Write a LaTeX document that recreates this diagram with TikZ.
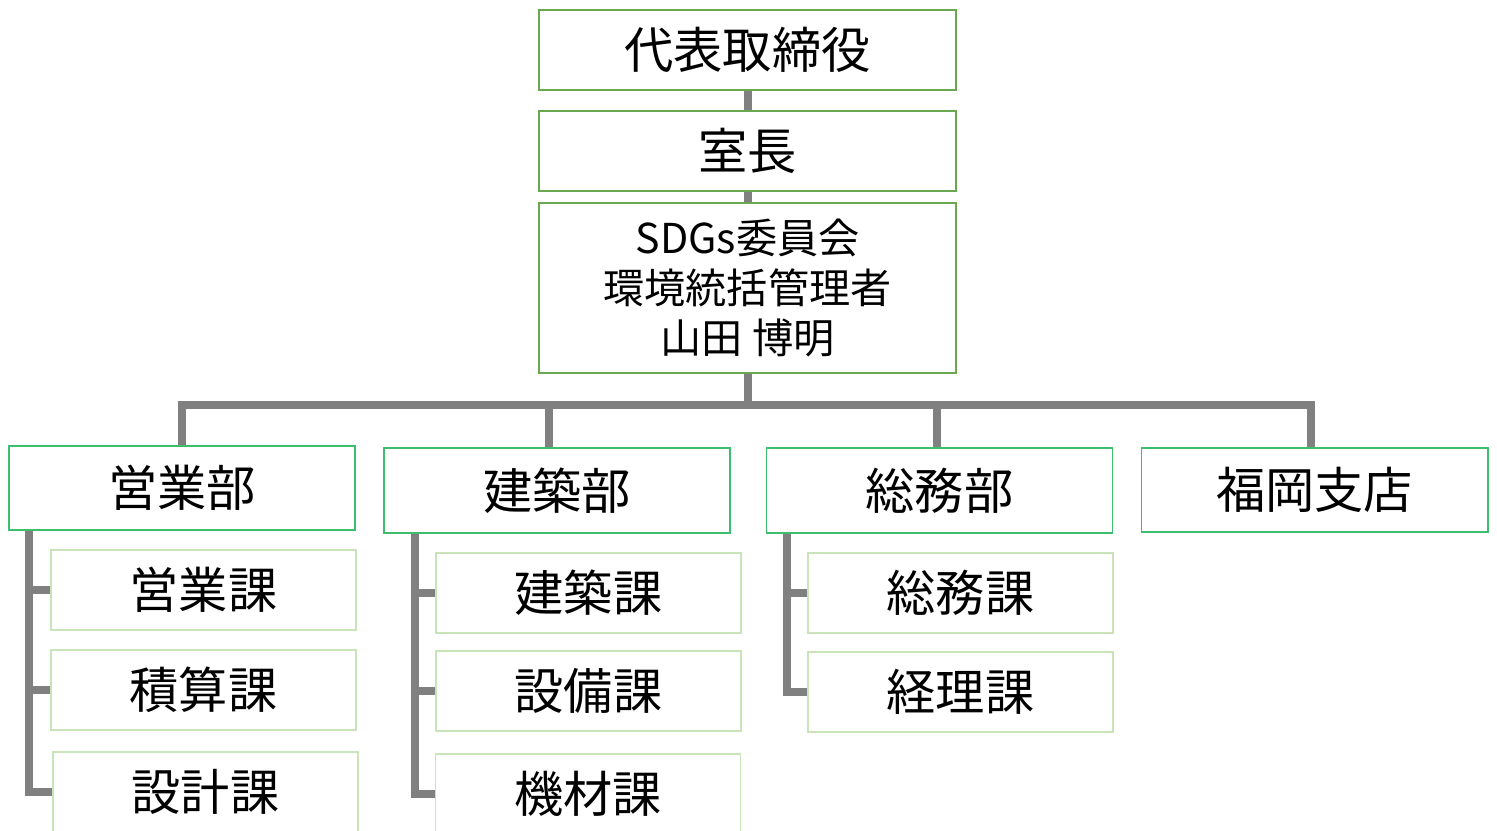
\documentclass[tikz,border=0pt]{standalone}
\usepackage{fontspec}
\setmainfont{Noto Sans CJK JP}
\usepackage{xcolor}
\definecolor{chart-olive}{HTML}{6AA84F}
\definecolor{chart-green}{HTML}{3DBE6E}
\definecolor{chart-pale}{HTML}{C9E4B8}
\definecolor{chart-grey}{HTML}{808080}
\usepackage{tikz}
\usetikzlibrary{calc}

\tikzset{
    topbox/.style={draw=chart-olive, line width=0.5pt, inner sep=0pt, minimum width=4.17cm, minimum height=0.8cm, font=\fontsize{14}{17}\selectfont},
    deptbox/.style={draw=chart-green, line width=0.5pt, inner sep=0pt, minimum width=3.46cm, minimum height=0.85cm, font=\fontsize{14}{17}\selectfont},
    sectbox/.style={draw=chart-pale, line width=0.5pt, inner sep=0pt, minimum width=3.05cm, minimum height=0.8cm, font=\fontsize{14}{17}\selectfont},
    link/.style={draw=chart-grey, line width=0.08cm}
}

\begin{document}
\begin{tikzpicture}[x=0.01cm, y=-0.01cm]

    % Frame
    \useasboundingbox (0, 0) rectangle (1497, 830);
    \clip (0, 0) rectangle (1497, 830);

    % Top
    \node[topbox] (ceo) at (747.5, 50) {代表取締役};
    \node[topbox] (chief) at (747.5, 151) {室長};
    \node[topbox, minimum height=1.7cm, align=center, font=\fontsize{11.7}{14.2}\selectfont] (sdgs) at (747.5, 288) {SDGs委員会\\環境統括管理者\\山田\ 博明};

    % Departments
    \node[deptbox, minimum height=0.84cm] (sales) at (182, 488) {営業部};
    \node[deptbox] (build) at (557, 490.5) {建築部};
    \node[deptbox] (admin) at (939.5, 490.5) {総務部};
    \node[deptbox, minimum height=0.84cm] (fukuoka) at (1314.5, 490) {福岡支店};

    % Sections
    \node[sectbox] (salessec) at (203.5, 590) {営業課};
    \node[sectbox] (estimate) at (203.5, 690) {積算課};
    \node[sectbox] (design) at (205.5, 792) {設計課};
    \node[sectbox] (buildsec) at (588.5, 593) {建築課};
    \node[sectbox] (facility) at (588.5, 691) {設備課};
    \node[sectbox] (machine) at (588, 794) {機材課};
    \node[sectbox] (adminsec) at (960.5, 593) {総務課};
    \node[sectbox] (account) at (960.5, 692) {経理課};

    % Links
    \coordinate (bar) at (747.5, 405);
    \draw[link] (ceo) -- (chief);
    \draw[link] (chief) -- (sdgs);
    \draw[link] (sdgs.south) -- (sdgs.south |- bar);
    \draw[link] (sales.north) -- (sales.north |- bar) -- ($(fukuoka.north |- bar)+(-3.5, 0)$) -- ($(fukuoka.north)+(-3.5, 0)$);
    \draw[link] ($(build.north)+(-8, 0)$) -- ($(build.north |- bar)+(-8, 0)$);
    \draw[link] ($(admin.north)+(-2.5, 0)$) -- ($(admin.north |- bar)+(-2.5, 0)$);

    % Section links
    \draw[link] ($(sales.south west)+(21, 0)$) |- (design.west);
    \draw[link] ($(sales.south west)+(21, 0)$) |- (salessec.west);
    \draw[link] ($(sales.south west)+(21, 0)$) |- (estimate.west);
    \draw[link] ($(build.south west)+(32, 0)$) |- (machine.west);
    \draw[link] ($(build.south west)+(32, 0)$) |- (buildsec.west);
    \draw[link] ($(build.south west)+(32, 0)$) |- (facility.west);
    \draw[link] ($(admin.south west)+(21, 0)$) |- (account.west);
    \draw[link] ($(admin.south west)+(21, 0)$) |- (adminsec.west);

\end{tikzpicture}
\end{document}
